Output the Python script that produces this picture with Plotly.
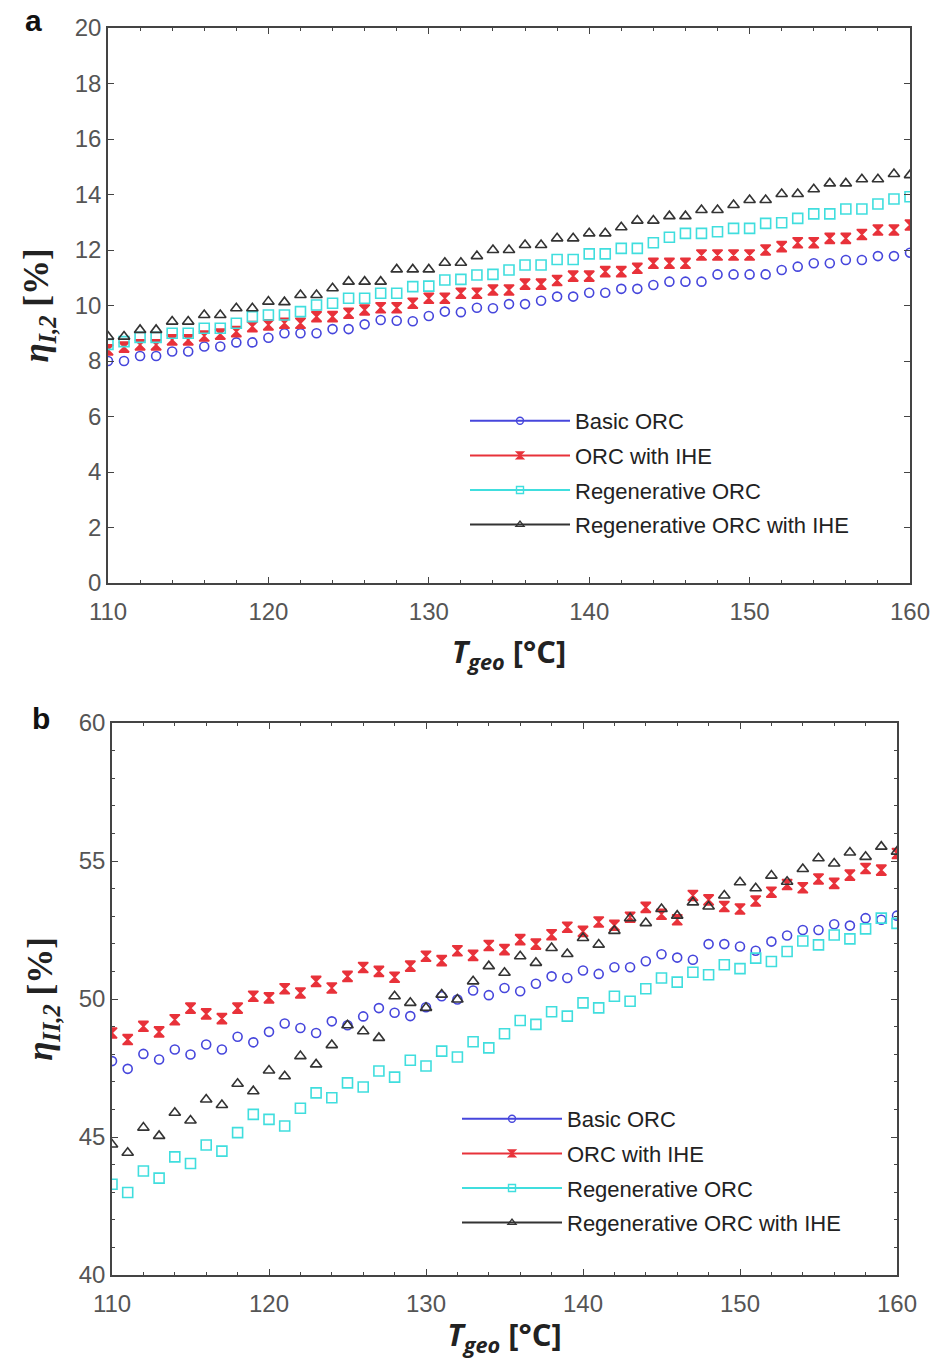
import plotly.graph_objects as go

T_geo = list(range(110, 161))

series_names = ["Basic ORC", "ORC with IHE", "Regenerative ORC", "Regenerative ORC with IHE"]

# Panel a: eta_I,2 [%]
a_basic = [8.0, 8.0, 8.18, 8.18, 8.34, 8.34, 8.52, 8.52, 8.67, 8.67,
           8.84, 9.0, 9.0, 9.0, 9.15, 9.15, 9.32, 9.48, 9.45, 9.43,
           9.62, 9.78, 9.76, 9.92, 9.9, 10.05, 10.05, 10.17, 10.32, 10.32,
           10.46, 10.46, 10.6, 10.6, 10.74, 10.86, 10.86, 10.86, 11.12, 11.12,
           11.12, 11.12, 11.28, 11.4, 11.52, 11.52, 11.64, 11.64, 11.78, 11.78,
           11.9]
a_ihe = [8.4, 8.5, 8.58, 8.58, 8.76, 8.76, 8.9, 8.97, 9.06, 9.24,
         9.3, 9.36, 9.36, 9.6, 9.6, 9.72, 9.84, 9.92, 9.92, 10.08,
         10.26, 10.26, 10.44, 10.44, 10.56, 10.56, 10.77, 10.77, 10.9, 11.06,
         11.06, 11.22, 11.22, 11.34, 11.52, 11.52, 11.52, 11.82, 11.82, 11.82,
         11.82, 12.0, 12.12, 12.26, 12.26, 12.42, 12.42, 12.56, 12.72, 12.72,
         12.9]
a_regen = [8.6, 8.7, 8.85, 8.85, 9.0, 9.0, 9.18, 9.18, 9.36, 9.6,
           9.66, 9.66, 9.78, 10.02, 10.08, 10.26, 10.26, 10.44, 10.44, 10.68,
           10.7, 10.92, 10.94, 11.1, 11.12, 11.28, 11.46, 11.46, 11.66, 11.66,
           11.86, 11.86, 12.06, 12.06, 12.26, 12.46, 12.6, 12.6, 12.66, 12.78,
           12.78, 12.96, 12.98, 13.14, 13.3, 13.3, 13.48, 13.48, 13.66, 13.84,
           13.92]
a_regen_ihe = [8.88, 8.88, 9.12, 9.12, 9.42, 9.42, 9.66, 9.66, 9.9, 9.9,
               10.14, 10.12, 10.38, 10.38, 10.62, 10.86, 10.86, 10.86, 11.3, 11.3,
               11.3, 11.54, 11.54, 11.78, 12.0, 12.0, 12.18, 12.18, 12.42, 12.42,
               12.6, 12.6, 12.82, 13.06, 13.06, 13.22, 13.22, 13.44, 13.44, 13.62,
               13.8, 13.8, 14.02, 14.02, 14.19, 14.4, 14.4, 14.55, 14.55, 14.74,
               14.7]

# Panel b: eta_II,2 [%]
b_basic = [47.75, 47.47, 48.01, 47.81, 48.17, 47.99, 48.35, 48.17, 48.63, 48.43,
           48.81, 49.11, 48.95, 48.77, 49.19, 49.05, 49.37, 49.67, 49.5, 49.38,
           49.7, 50.1, 49.98, 50.31, 50.14, 50.4, 50.28, 50.55, 50.82, 50.76,
           51.03, 50.91, 51.15, 51.15, 51.37, 51.62, 51.5, 51.42, 51.99, 51.99,
           51.9, 51.75, 52.08, 52.3, 52.5, 52.5, 52.71, 52.66, 52.93, 52.87,
           53.02]
b_ihe = [48.77, 48.53, 49.01, 48.81, 49.25, 49.67, 49.46, 49.29, 49.67, 50.1,
         50.04, 50.37, 50.22, 50.64, 50.4, 50.82, 51.14, 51.0, 50.79, 51.19,
         51.55, 51.39, 51.75, 51.58, 51.94, 51.79, 52.15, 51.99, 52.33, 52.6,
         52.45, 52.79, 52.67, 52.96, 53.32, 53.07, 52.87, 53.75, 53.59, 53.35,
         53.26, 53.55, 53.87, 54.15, 54.03, 54.35, 54.19, 54.49, 54.73, 54.67,
         55.27]
b_regen = [43.29, 42.99, 43.77, 43.51, 44.28, 44.04, 44.71, 44.49, 45.16, 45.82,
           45.64, 45.4, 46.04, 46.6, 46.42, 46.96, 46.81, 47.39, 47.17, 47.78,
           47.57, 48.11, 47.9, 48.45, 48.23, 48.74, 49.22, 49.08, 49.54, 49.38,
           49.86, 49.68, 50.1, 49.92, 50.37, 50.76, 50.61, 50.97, 50.88, 51.24,
           51.1, 51.48, 51.36, 51.72, 52.1, 51.96, 52.32, 52.18, 52.54, 52.93,
           52.74]
b_regen_ihe = [44.73, 44.43, 45.34, 45.04, 45.88, 45.6, 46.36, 46.16, 46.93, 46.66,
               47.41, 47.2, 47.93, 47.63, 48.33, 49.05, 48.83, 48.59, 50.1, 49.86,
               49.68, 50.16, 49.98, 50.64, 51.19, 50.95, 51.55, 51.31, 51.85, 51.63,
               52.21, 51.97, 52.47, 52.93, 52.75, 53.26, 53.02, 53.5, 53.35, 53.75,
               54.23, 54.01, 54.47, 54.25, 54.71, 55.1, 54.91, 55.31, 55.15, 55.52,
               55.34]

a_yticks = [0, 2, 4, 6, 8, 10, 12, 14, 16, 18, 20]
b_yticks = [40, 45, 50, 55, 60]
x_ticks = [110, 120, 130, 140, 150, 160]

colors = ["#4646dc", "#e8323a", "#40dede", "#333333"]
symbols = ["circle-open", "hourglass", "square-open", "triangle-up-open"]
sizes = [9, 10, 10, 10]

W, H = 938, 1367
fig = go.Figure()

panels = [
    ("x", "y", [a_basic, a_ihe, a_regen, a_regen_ihe], "legend"),
    ("x2", "y2", [b_basic, b_ihe, b_regen, b_regen_ihe], "legend2"),
]
for xa, ya, data, leg in panels:
    for i, vals in enumerate(data):
        fig.add_trace(go.Scatter(
            x=T_geo, y=vals, mode="markers", xaxis=xa, yaxis=ya, showlegend=False,
            marker=dict(symbol=symbols[i], size=sizes[i], color=colors[i],
                        line=dict(width=1.6, color=colors[i])),
        ))
    for i, name in enumerate(series_names):
        fig.add_trace(go.Scatter(
            x=[None], y=[None], mode="lines+markers", name=name, xaxis=xa, yaxis=ya,
            legend=leg, legendgroup=name + leg,
            line=dict(color=colors[i], width=2),
            marker=dict(symbol=symbols[i], size=7, color=colors[i],
                        line=dict(width=1.4, color=colors[i])),
        ))

axis_common = dict(
    showline=True, linecolor="#444444", linewidth=1.5, mirror="ticks",
    ticks="inside", ticklen=6, tickcolor="#444444", showgrid=False, zeroline=False,
    automargin=False,
    tickfont=dict(family="Liberation Sans, Arial", size=24, color="#555555"),
)
xtitle = "<b><i>T</i><sub><i>geo</i></sub> [°C]</b>"
title_font_x = dict(family="Open Sans", size=31, color="#222222")
title_font_y = dict(family="Liberation Serif", size=35, color="#222222")

def px_dom_x(a, b):
    return [a / W, b / W]

def px_dom_y(top, bottom):
    return [1 - bottom / H, 1 - top / H]

legend_font = dict(family="Liberation Sans, Arial", size=22, color="#222222")

fig.update_layout(
    template="none",
    width=W, height=H, margin=dict(l=0, r=0, t=0, b=0, autoexpand=False),
    paper_bgcolor="white", plot_bgcolor="white",
    xaxis=dict(domain=px_dom_x(108, 910), range=[110, 160], tickvals=x_ticks,
               minor=dict(dtick=2, ticks="inside", ticklen=3, tickcolor="#444444"),
               ticklabelstandoff=6,
               title=dict(text=xtitle, font=title_font_x, standoff=18), anchor="y",
               **axis_common),
    yaxis=dict(domain=px_dom_y(28, 583), range=[0, 20], tickvals=a_yticks,
               title=dict(text="<b><i>η</i><sub><i>I,2</i></sub> [%]</b>", font=title_font_y, standoff=15),
               anchor="x", **axis_common),
    xaxis2=dict(domain=px_dom_x(112, 897), range=[110, 160], tickvals=x_ticks,
                minor=dict(dtick=2, ticks="inside", ticklen=3, tickcolor="#444444"),
                ticklabelstandoff=6,
                title=dict(text=xtitle, font=title_font_x, standoff=9), anchor="y2",
                **axis_common),
    yaxis2=dict(domain=px_dom_y(723, 1275), range=[40, 60], tickvals=b_yticks,
                minor=dict(dtick=1, ticks="inside", ticklen=3, tickcolor="#444444"),
                title=dict(text="<b><i>η</i><sub><i>II,2</i></sub> [%]</b>", font=title_font_y, standoff=15),
                anchor="x2", **axis_common),
    legend=dict(x=465 / W, y=1 - 400 / H, xanchor="left", yanchor="top",
                bgcolor="rgba(0,0,0,0)", itemwidth=100, tracegroupgap=3,
                font=legend_font),
    legend2=dict(x=457 / W, y=1 - 1098 / H, xanchor="left", yanchor="top",
                 bgcolor="rgba(0,0,0,0)", itemwidth=100, tracegroupgap=3,
                 font=legend_font),
    annotations=[
        dict(text="<b>a</b>", x=33 / W, y=1 - 20 / H, xref="paper", yref="paper",
             xanchor="center", yanchor="middle",
             showarrow=False, font=dict(family="Liberation Sans, Arial", size=30, color="#111111")),
        dict(text="<b>b</b>", x=41 / W, y=1 - 718 / H, xref="paper", yref="paper",
             xanchor="center", yanchor="middle",
             showarrow=False, font=dict(family="Liberation Sans, Arial", size=30, color="#111111")),
    ],
)

fig.write_html("out.html")
